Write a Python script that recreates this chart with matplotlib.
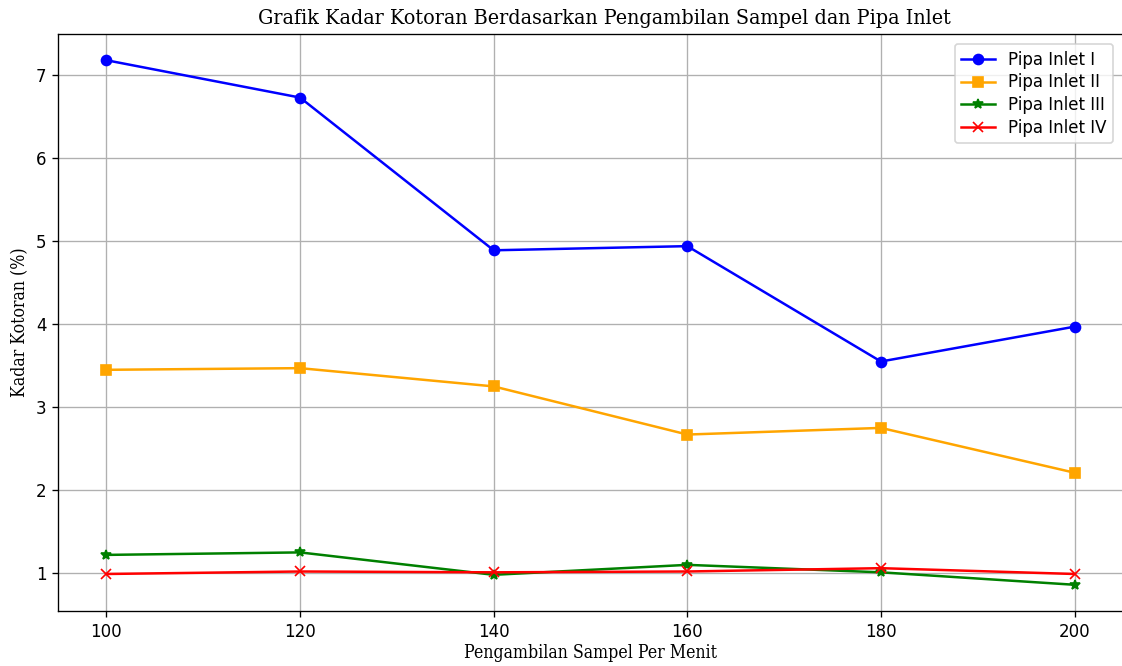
import matplotlib
matplotlib.use("Agg")
import matplotlib.pyplot as plt

x = [100, 120, 140, 160, 180, 200]
pipa1 = [7.18, 6.73, 4.89, 4.94, 3.55, 3.97]
pipa2 = [3.45, 3.47, 3.25, 2.67, 2.75, 2.21]
pipa3 = [1.22, 1.25, 0.98, 1.10, 1.01, 0.86]
pipa4 = [0.99, 1.02, 1.01, 1.02, 1.06, 0.99]
labels = ["Pipa Inlet I", "Pipa Inlet II", "Pipa Inlet III", "Pipa Inlet IV"]

DPI = 120
fig = plt.figure(figsize=(1122 / DPI, 666 / DPI), dpi=DPI)
ax = fig.add_axes([58/1122, 1-611/666, (1123-58)/1122, (611-34)/666])
ax.plot(x, pipa1, color="blue", marker="o", label=labels[0])
ax.plot(x, pipa2, color="orange", marker="s", label=labels[1])
ax.plot(x, pipa3, color="green", marker="*", label=labels[2])
ax.plot(x, pipa4, color="red", marker="x", label=labels[3])
ax.grid(True)
serif = dict(family=["DejaVu Serif", "Liberation Serif"], stretch="condensed")
ax.set_title("Grafik Kadar Kotoran Berdasarkan Pengambilan Sampel dan Pipa Inlet",
             fontsize=12.8, pad=6, x=0.513, **serif)
ax.set_xlabel("Pengambilan Sampel Per Menit", fontsize=10.6, labelpad=2, **serif)
ax.set_ylabel("Kadar Kotoran (%)", fontsize=10.6, **serif)
ax.legend(loc="upper right", labelspacing=0.28, borderaxespad=0.6)
fig.savefig("out.png", dpi=DPI)
